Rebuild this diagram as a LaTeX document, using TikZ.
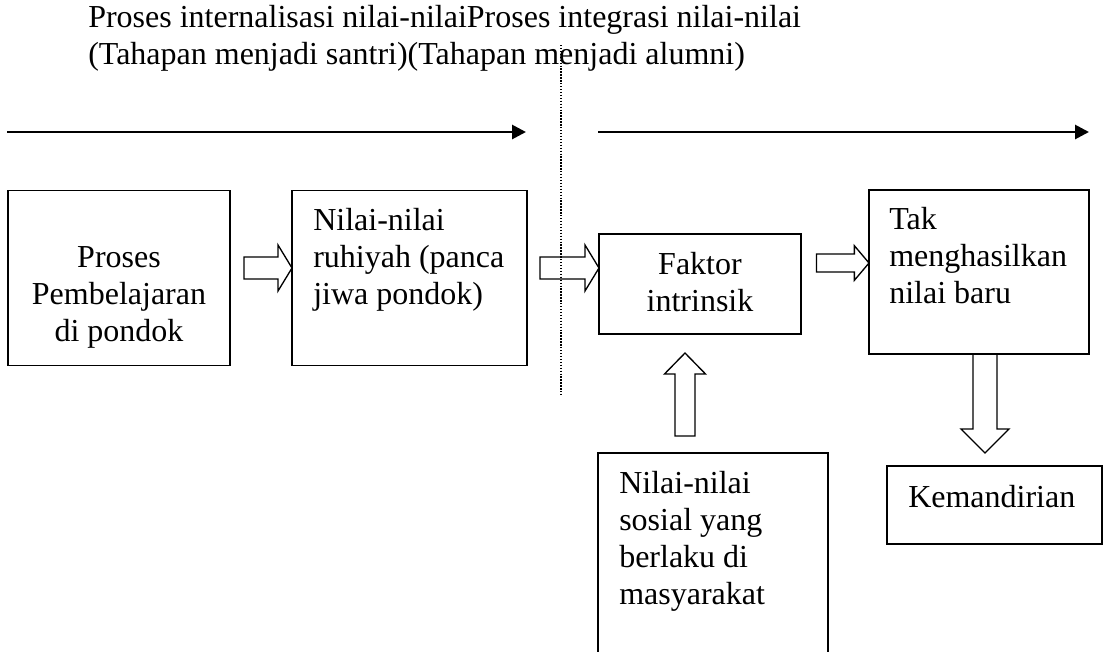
\documentclass[tikz,border=0pt]{standalone}
\usepackage{fontspec}
\setmainfont{Liberation Serif}
\usetikzlibrary{calc,arrows.meta}
\def\hollowarrow(#1)(#2)(#3:#4:#5){\coordinate (hb) at ($(#2)!#5!(#1)$); \draw[line width=1pt, line join=miter] ($(#1)!#3!90:(#2)$) -- ($(hb)!#3!-90:(#1)$) -- ($(hb)!#4!-90:(#1)$) -- (#2) -- ($(hb)!#4!90:(#1)$) -- ($(hb)!#3!90:(#1)$) -- ($(#1)!#3!-90:(#2)$) -- cycle}

\begin{document}
\begin{tikzpicture}[x=0.75pt, y=-0.75pt, font={\fontsize{24}{27.75}\selectfont}]
		%%%%% START %%%%%
		\path[use as bounding box] (0, 0) rectangle (1103, 651);
		\clip (0, 0) rectangle (1103, 651);
		
		% base of a node with more lines is the baseline of its last line
		\node[anchor=base west, align=left, inner sep=0] (judul) at (88, 64) {Proses internalisasi nilai-nilaiProses integrasi nilai-nilai\\(Tahapan menjadi santri)(Tahapan menjadi alumni)};
		
		\coordinate (santrikiri) at (7, 132);
		\coordinate (santrikanan) at (526, 132);
		\coordinate (alumnikiri) at (598, 132);
		\coordinate (alumnikanan) at (1089, 132);
		\draw[line width=2.1pt, -{Triangle[length=10.5pt, width=10.5pt]}] (santrikiri) -- (santrikanan);
		\draw[line width=2.1pt, -{Triangle[length=10.5pt, width=10.5pt]}] (alumnikiri) -- (alumnikanan);
		
		\coordinate (batasatas) at (561, 45);
		\coordinate (batasbawah) at (561, 397);
		\draw[line width=1.2pt, dash pattern=on 1pt off 1.2pt] (batasatas) -- (batasbawah);
		
		\node[draw, line width=1.1pt, inner sep=0, outer sep=0, minimum width=166.5pt, minimum height=131.25pt] (pembelajaran) at (119, 278) {};
		\node[draw, line width=1.1pt, inner sep=0, outer sep=0, minimum width=176.25pt, minimum height=131.25pt] (ruhiyah) at (409.5, 278) {};
		\node[draw, line width=1.1pt, inner sep=0, outer sep=0, minimum width=151.5pt, minimum height=75pt] (intrinsik) at (700, 284) {};
		\node[draw, line width=1.1pt, inner sep=0, outer sep=0, minimum width=165pt, minimum height=123pt] (takbaru) at (979, 272) {};
		\node[draw, line width=1.1pt, inner sep=0, outer sep=0, minimum width=172.5pt, minimum height=170.25pt] (sosial) at (713, 566.5) {};
		\node[draw, line width=1.1pt, inner sep=0, outer sep=0, minimum width=161.25pt, minimum height=58.5pt] (mandiri) at (994.5, 505) {};
		
		\node[anchor=base, align=center, inner sep=0] (pembelajarantxt) at ($(pembelajaran.north)+(0, 151)$) {Proses\\Pembelajaran\\di pondok};
		\node[anchor=base west, align=left, inner sep=0] (ruhiyahtxt) at ($(ruhiyah.north west)+(21, 114)$) {Nilai-nilai\\ruhiyah (panca\\jiwa pondok)};
		\node[anchor=base, align=center, inner sep=0] (intrinsiktxt) at ($(intrinsik.north)+(0, 77)$) {Faktor\\intrinsik};
		\node[anchor=base west, align=left, inner sep=0] (takbarutxt) at ($(takbaru.north west)+(20, 113)$) {Tak\\menghasilkan\\nilai baru};
		\node[anchor=base west, align=left, inner sep=0] (sosialtxt) at ($(sosial.north west)+(21, 151)$) {Nilai-nilai\\sosial yang\\berlaku di\\masyarakat};
		\node[anchor=base west, align=left, inner sep=0] (mandiritxt) at ($(mandiri.north west)+(21, 41)$) {Kemandirian};
		
		\coordinate (panah1) at ($(pembelajaran.east)+(14, -10)$);
		\hollowarrow(panah1)($(ruhiyah.west)+(0, -10)$)(8.25pt:17.25pt:10.5pt);
		\coordinate (panah2) at ($(ruhiyah.east)+(13, -10)$);
		\hollowarrow(panah2)($(intrinsik.west)+(0, -16)$)(8.25pt:17.25pt:10.5pt);
		\coordinate (panah3) at ($(intrinsik.east)+(15.5, -21)$);
		\hollowarrow(panah3)($(takbaru.west)+(0, -9)$)(6.75pt:13pt:11pt);
		\coordinate (panah4) at ($(sosial.north)+(-28, -17)$);
		\hollowarrow(panah4)($(intrinsik.south)+(-15, 19)$)(7.5pt:15.4pt:15.75pt);
		\coordinate (panah5) at ($(takbaru.south)+(6, 0)$);
		\hollowarrow(panah5)($(mandiri.north)+(-9.5, -13)$)(9pt:18pt:18pt);
		
		%%%%% END %%%%%
	\end{tikzpicture}
\end{document}
